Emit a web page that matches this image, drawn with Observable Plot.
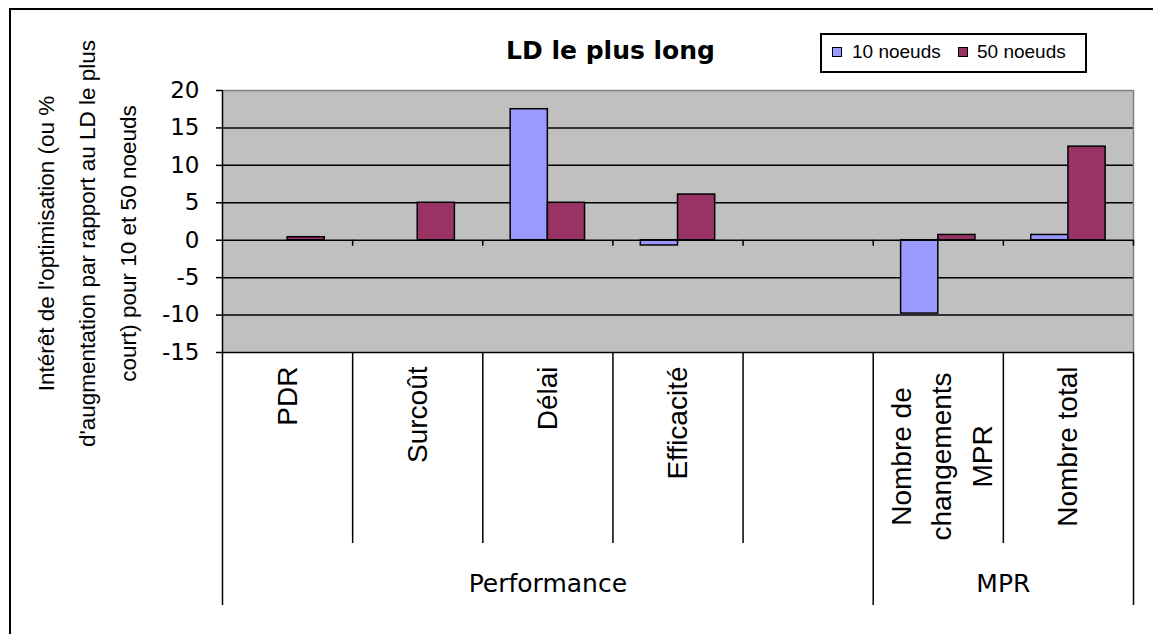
<!DOCTYPE html>
<html>
<head>
<meta charset="utf-8">
<script src="https://cdn.jsdelivr.net/npm/d3@7"></script>
<script src="https://cdn.jsdelivr.net/npm/@observablehq/plot@0.6"></script>
<style>
  html, body { margin: 0; padding: 0; background: #fff; }
  #chart { position: relative; width: 1153px; height: 634px; overflow: hidden; }
  #chart svg { position: absolute; left: 0; top: 0; }
  #border { position: absolute; left: 9px; top: 8px; right: -10px; bottom: -10px;
            border-left: 2px solid #000; border-top: 2px solid #000; pointer-events: none; }
  #legend { position: absolute; left: 820px; top: 33px; width: 263px; height: 36px;
            border: 2px solid #000; background: #fff;
            font-family: "Liberation Sans", Arial, sans-serif; font-size: 19px; color: #000; }
  #legend .sw { position: absolute; top: 12px; width: 8px; height: 8px; border: 1.5px solid #000; }
  #legend .lt { position: absolute; top: 7px; line-height: 19px; white-space: nowrap; }
</style>
</head>
<body>
<div id="chart"></div>
<script>
// ---- data ----
const categories = ["PDR", "Surcoût", "Délai", "Efficacité", "", "Nombre de\nchangements\nMPR", "Nombre total"];
const categoryGroups = ["Performance", "Performance", "Performance", "Performance", "Performance", "MPR", "MPR"];
const seriesNames = ["10 noeuds", "50 noeuds"];
const values10 = [0, 0, 17.5, -0.7, null, -9.8, 0.7];
const values50 = [0.4, 5.0, 5.0, 6.1, null, 0.7, 12.5];
const yTicks = [20, 15, 10, 5, 0, -5, -10, -15];
const seriesColors = ["#9999FF", "#993366"];
const chartTitle = "LD le plus long";
const yTitle = "Intérêt de l'optimisation (ou %\nd'augmentation par rapport au LD le plus\ncourt) pour 10 et 50 noeuds";

// ---- layout ----
const W = 1153, H = 634;
const mt = 90, mb = 282, ml = 222, mr = 20;
const yMin = d3.min(yTicks), yMax = d3.max(yTicks);
const ppu = (H - mt - mb) / (yMax - yMin);
const gapRatio = 1.5; // gap width 150 %
const barW = 1 / (seriesNames.length + gapRatio);
const yBelow = px => yMin - px / ppu;

const rows = [];
categories.forEach((c, i) => {
  [values10, values50].forEach((vals, s) => {
    if (vals[i] == null) return;
    const start = i + 0.5 - barW * seriesNames.length / 2 + s * barW;
    rows.push({category: c, series: seriesNames[s], value: vals[i], x1: start, x2: start + barW});
  });
});

const cats = categories.map((label, i) => ({label, mid: i + 0.5}));
const boundaries = d3.range(categories.length + 1);
const groupBounds = [0];
categoryGroups.forEach((g, i) => { if (i > 0 && g !== categoryGroups[i - 1]) groupBounds.push(i); });
groupBounds.push(categories.length);
const catSeps = boundaries.filter(b => !groupBounds.includes(b));
const groups = [];
for (let k = 0; k < groupBounds.length - 1; k++) {
  groups.push({name: categoryGroups[groupBounds[k]], mid: (groupBounds[k] + groupBounds[k + 1]) / 2});
}

const sans = "'DejaVu Sans', sans-serif";
const arial = "'Liberation Sans', Arial, sans-serif";

const plot = Plot.plot({
  width: W, height: H,
  marginTop: mt, marginBottom: mb, marginLeft: ml, marginRight: mr,
  x: {domain: [0, categories.length], axis: null},
  y: {domain: [yMin, yMax], axis: null},
  color: {domain: seriesNames, range: seriesColors},
  style: {background: "transparent", fontFamily: sans, fontSize: "23px", color: "#000", overflow: "visible"},
  marks: [
    Plot.frame({fill: "#C0C0C0", stroke: null}),
    Plot.ruleY(yTicks.filter(t => t !== yMax && t !== 0), {stroke: "#000", strokeWidth: 1.5}),
    Plot.ruleY([yMax], {stroke: "#808080", strokeWidth: 1.5}),
    Plot.ruleX([categories.length], {y1: yMin, y2: yMax, stroke: "#808080", strokeWidth: 1.5}),
    Plot.rectY(rows, {x1: "x1", x2: "x2", y1: 0, y2: "value", fill: "series", stroke: "#000", strokeWidth: 1.5}),
    Plot.ruleY([0], {stroke: "#000", strokeWidth: 1.5}),
    Plot.ruleX(boundaries.slice(1), {x: d => d, y1: 0, y2: -6 / ppu, stroke: "#000", strokeWidth: 1.5}),
    Plot.ruleX([0], {y1: yMin, y2: yMax, stroke: "#000", strokeWidth: 1.5}),
    Plot.axisY({ticks: yTicks, tickSize: 6, tickPadding: 17, tickFormat: d => String(d), label: null,
                fontSize: 23, fontFamily: sans, stroke: "#000", strokeWidth: 1.5}),
    Plot.ruleX(catSeps, {x: d => d, y1: yMin, y2: yBelow(191), stroke: "#000", strokeWidth: 1.5}),
    Plot.ruleX(groupBounds, {x: d => d, y1: yMin, y2: yBelow(253), stroke: "#000", strokeWidth: 1.5}),
    Plot.text(cats.filter(d => d.label && !d.label.includes("\n")), {
      x: "mid", y: yMin, dy: 14, text: "label", rotate: -90, textAnchor: "end", lineAnchor: "middle",
      fontFamily: arial, fontSize: 28, fill: "#000"}),
    Plot.text(cats.filter(d => d.label.includes("\n")), {
      x: "mid", y: yMin, dy: 104, text: "label", rotate: -90, textAnchor: "middle", lineAnchor: "middle",
      lineHeight: 1.45, fontFamily: arial, fontSize: 28, fill: "#000"}),
    Plot.text(groups, {x: "mid", y: yMin, dy: 231, text: "name", textAnchor: "middle", lineAnchor: "middle",
      fontFamily: sans, fontSize: 25, fill: "#000"}),
    Plot.text([chartTitle], {frameAnchor: "top-left", dx: 388, dy: -40, text: d => d, textAnchor: "middle",
      lineAnchor: "middle", fontWeight: "bold", fontFamily: sans, fontSize: 25, fill: "#000"}),
    Plot.text([yTitle], {frameAnchor: "left", dx: -141, dy: 22, text: d => d, rotate: -90, textAnchor: "middle",
      lineAnchor: "middle", lineHeight: 1.82, fontFamily: arial, fontSize: 22.5, fill: "#000"})
  ]
});

const chart = document.getElementById("chart");
chart.appendChild(plot);

const border = document.createElement("div");
border.id = "border";
chart.appendChild(border);

// legend
const legend = document.createElement("div");
legend.id = "legend";
const swLeft = [10, 136], txtLeft = [30, 155];
seriesNames.forEach((name, s) => {
  const sw = document.createElement("div");
  sw.className = "sw";
  sw.style.left = swLeft[s] + "px";
  sw.style.background = seriesColors[s];
  legend.appendChild(sw);
  const t = document.createElement("div");
  t.className = "lt";
  t.style.left = txtLeft[s] + "px";
  t.textContent = name;
  legend.appendChild(t);
});
chart.appendChild(legend);
</script>
</body>
</html>
